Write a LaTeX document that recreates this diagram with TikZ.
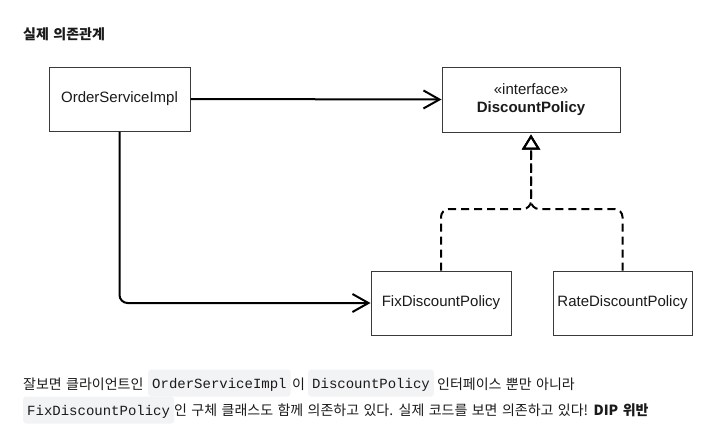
\documentclass[tikz,border=0pt]{standalone}
\usepackage{fontspec}
\setmainfont{Liberation Sans}
\newfontfamily\kr{Noto Sans CJK KR}[WordSpace=1.4]
\newfontfamily\mono{Liberation Mono}
\usetikzlibrary{arrows.meta}
\definecolor{codebg}{HTML}{F2F3F5}
\definecolor{ink}{HTML}{1A1A1A}
\definecolor{boxline}{HTML}{3A3A3A}
\begin{document}
\begin{tikzpicture}[x=1pt,y=-1pt,
  umlbox/.style={draw=boxline, line width=1pt, fill=white, inner sep=0pt, text=ink,
    font=\fontsize{15}{18}\selectfont, align=center},
  dep/.style={draw=black, line width=2pt, rounded corners=8pt,
    -{Straight Barb[length=16pt,width=18pt]}},
  impl/.style={draw=black, line width=2pt, dash pattern=on 8pt off 5pt, rounded corners=8pt,
    -{Triangle[open,length=15pt,width=18pt]}, shorten >=2pt},
  body/.style={font=\kr\fontsize{14}{16}\selectfont, text=ink, inner sep=0pt, anchor=base west},
  bodybold/.style={font=\kr\bfseries\fontsize{14}{16}\selectfont, text=ink, inner sep=0pt, anchor=base west},
  code/.style={fill=codebg, rounded corners=3pt, inner xsep=4pt, inner ysep=5pt,
    text height=13.5pt, text depth=3.5pt, font=\mono\fontsize{14}{16}\selectfont, text=ink, anchor=base west}
]
\useasboundingbox (0,0) rectangle (711,447);

\node[bodybold] (title) at (23,39) {실제 의존관계};

\node[umlbox, minimum width=141pt, minimum height=64pt] (osi) at (119.5,99) {OrderServiceImpl};
\node[umlbox, minimum width=178pt, minimum height=65pt] (dp) at (531,99.5) {«interface»\\\textbf{DiscountPolicy}};
\node[umlbox, minimum width=140pt, minimum height=64pt] (fix) at (441,303) {FixDiscountPolicy};
\node[umlbox, minimum width=139pt, minimum height=64pt] (rate) at (622.5,303) {RateDiscountPolicy};

\coordinate (j) at (531,209);

\draw[dep] (osi.east) -- (dp.west);
\draw[dep] (osi.south) |- (fix.west);
\draw[impl] (fix.north) |- (j) -- (dp.south);
\draw[impl] (rate.north) |- (j) -- (dp.south);

\node[body] (l1a) at (23,389) {잘보면 클라이언트인};
\node[code] (c1) at (148,388) {OrderServiceImpl};
\node[body] (l1b) at (292,389) {이};
\node[code] (c2) at (308,388) {DiscountPolicy};
\node[body] (l1c) at (437,389) {인터페이스 뿐만 아니라};

\node[code] (c3) at (23,415) {FixDiscountPolicy};
\node[body] (l2a) at (174,415) {인 구체 클래스도 함께 의존하고 있다. 실제 코드를 보면 의존하고 있다!};
\node[bodybold] (l2b) at ([xshift=5pt]l2a.base east) {DIP 위반};
\end{tikzpicture}
\end{document}
